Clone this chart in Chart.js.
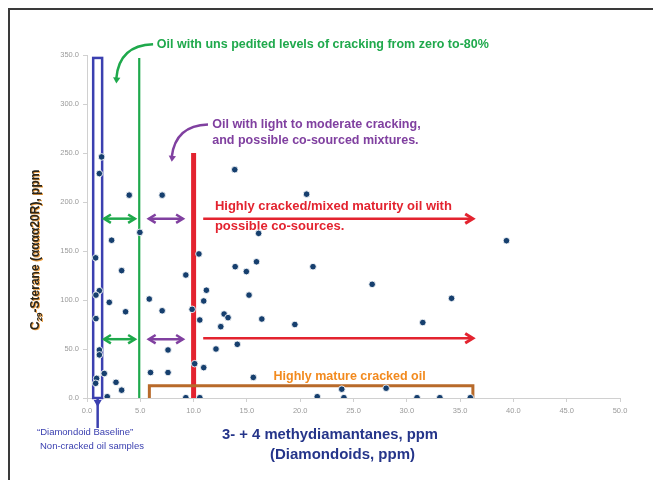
<!DOCTYPE html>
<html>
<head>
<meta charset="utf-8">
<title>Diamondoids vs C29 sterane</title>
<script src="https://cdn.jsdelivr.net/npm/chart.js@4.4.1/dist/chart.umd.min.js"></script>
<style>
  html, body { margin: 0; padding: 0; background: #fff; }
  #wrap { width: 653px; height: 480px; position: relative; }
</style>
</head>
<body>
<div id="wrap"><canvas id="c" width="653" height="480"></canvas></div>
<script>
// 3- + 4-methyldiamantanes (ppm) for each oil sample
const diamondoidsPpm = [
  1.37, 1.16, 3.96, 7.05, 13.86, 4.96, 2.31, 0.81, 10.5, 3.25,
  9.27, 13.9, 14.95, 15.9, 16.1, 15.2, 11.2, 10.95, 1.16, 0.84,
  2.09, 5.84, 3.62, 7.05, 9.86, 0.84, 10.58, 12.86, 13.23, 12.55,
  16.4, 19.5, 12.1, 14.1, 7.6, 1.16, 1.16, 10.1, 10.95, 1.62,
  5.96, 7.6, 2.72, 3.25, 0.9, 0.81, 1.9, 9.27, 10.58, 15.6,
  20.6, 21.2, 23.9, 21.6, 24.1, 26.75, 34.2, 31.5, 39.35, 28.06,
  30.96, 33.1, 35.96
];
// C29 sterane (aaaa20R), ppm, same sample order
const steranePpm = [
  246, 229, 207, 207, 233, 169, 161, 143, 147, 130,
  125.5, 134, 129, 139, 168, 105, 110, 99, 109.5, 105,
  97.6, 101, 88, 89, 90.5, 81, 79.6, 85.7, 82, 72.8,
  80.6, 75, 50, 54.8, 49, 49, 44, 35, 31, 25,
  26, 26, 16, 8, 20, 15, 1.3, 0.3, 0.3, 21,
  208, 134, 9, 1.3, 0.3, 116, 101.7, 77, 160.5, 10,
  0.3, 0.3, 0.3
];
const xAxisTitle = ['3- + 4 methydiamantanes, ppm', '(Diamondoids, ppm)'];
const yAxisTitle = ['C', '29', '-Sterane (\u03b1\u03b1\u03b1\u03b120R), ppm'];

const FONT = '"Liberation Sans", Arial, sans-serif';
const GREEN = '#1fa94c';
const PURPLE = '#8040a0';
const RED = '#e3232f';
const BLUE = '#3b40b0';
const BROWN = '#b86a2a';
const ORANGE = '#f28a1e';

function head(ctx, x, y, ang, size, fill) {
  ctx.beginPath();
  ctx.moveTo(x - size * Math.cos(ang - 0.55), y - size * Math.sin(ang - 0.55));
  ctx.lineTo(x, y);
  ctx.lineTo(x - size * Math.cos(ang + 0.55), y - size * Math.sin(ang + 0.55));
  if (fill) { ctx.closePath(); ctx.fill(); } else { ctx.stroke(); }
}

function text(ctx, str, x, y, font, color, maxW) {
  ctx.font = font;
  ctx.fillStyle = color;
  ctx.textAlign = 'left';
  ctx.textBaseline = 'middle';
  if (maxW) ctx.fillText(str, x, y, maxW); else ctx.fillText(str, x, y);
}

// Interpretive overlays: zones, arrows and their captions
const overlays = {
  id: 'overlays',
  beforeDatasetsDraw(chart) {
    const { ctx } = chart;
    const sx = chart.scales.x, sy = chart.scales.y;
    const X = v => sx.getPixelForValue(v);
    const Y = v => sy.getPixelForValue(v);
    ctx.save();
    ctx.lineCap = 'butt';

    // baseline box for non-cracked oils
    ctx.strokeStyle = BLUE;
    ctx.lineWidth = 2.5;
    ctx.strokeRect(X(0.58), Y(347), X(1.42) - X(0.58), Y(0) - Y(347));
    const bx = (X(0.58) + X(1.42)) / 2;
    ctx.beginPath();
    ctx.moveTo(bx, Y(0));
    ctx.lineTo(bx, Y(0) + 30);
    ctx.stroke();
    ctx.fillStyle = BLUE;
    ctx.beginPath();
    ctx.moveTo(bx - 4, Y(0) + 2);
    ctx.lineTo(bx + 4, Y(0) + 2);
    ctx.lineTo(bx, Y(0) + 9);
    ctx.closePath();
    ctx.fill();

    // green boundary line
    ctx.strokeStyle = GREEN;
    ctx.lineWidth = 2.2;
    ctx.beginPath();
    ctx.moveTo(X(4.9), Y(347));
    ctx.lineTo(X(4.9), Y(0));
    ctx.stroke();

    // red boundary bar
    ctx.strokeStyle = RED;
    ctx.lineWidth = 5;
    ctx.beginPath();
    ctx.moveTo(X(10), Y(250));
    ctx.lineTo(X(10), Y(0));
    ctx.stroke();

    // double-headed arrows
    const dbl = (x1, x2, yv, col) => {
      ctx.strokeStyle = col;
      ctx.lineWidth = 2.5;
      const yy = Y(yv);
      ctx.beginPath();
      ctx.moveTo(X(x1), yy);
      ctx.lineTo(X(x2), yy);
      ctx.stroke();
      head(ctx, X(x2), yy, 0, 8, false);
      head(ctx, X(x1), yy, Math.PI, 8, false);
    };
    dbl(1.6, 4.5, 183, GREEN);
    dbl(1.6, 4.5, 60, GREEN);
    dbl(5.8, 9.0, 183, PURPLE);
    dbl(5.8, 9.0, 60, PURPLE);

    // red rightward arrows
    const rarr = (x1, x2, yv) => {
      ctx.strokeStyle = RED;
      ctx.lineWidth = 2.5;
      const yy = Y(yv);
      ctx.beginPath();
      ctx.moveTo(X(x1), yy);
      ctx.lineTo(X(x2), yy);
      ctx.stroke();
      ctx.lineWidth = 3;
      head(ctx, X(x2), yy, 0, 9, false);
    };
    rarr(10.9, 36.2, 183);
    rarr(10.9, 36.2, 61);

    // bracket for highly mature cracked oil
    ctx.strokeStyle = BROWN;
    ctx.lineWidth = 3;
    ctx.beginPath();
    ctx.moveTo(X(5.85), Y(0));
    ctx.lineTo(X(5.85), Y(12.5));
    ctx.lineTo(X(36.2), Y(12.5));
    ctx.lineTo(X(36.2), Y(0));
    ctx.stroke();

    // curved pointer arrows
    const curve = (x0, y0, cx, cy, x1, y1, col) => {
      ctx.strokeStyle = col;
      ctx.fillStyle = col;
      ctx.lineWidth = 2.5;
      ctx.beginPath();
      ctx.moveTo(x0, y0);
      ctx.quadraticCurveTo(cx, cy, x1, y1 - 5);
      ctx.stroke();
      const ang = Math.atan2(y1 - (y1 - 5) + (y1 - 5 - cy) * 0.2, x1 - cx) ;
      head(ctx, x1, y1, Math.atan2(y1 - cy, x1 - cx), 7, true);
    };
    curve(X(6.2), Y(361), X(3.0), Y(360), X(2.75), Y(321), GREEN);
    curve(X(11.35), Y(279), X(8.3), Y(278), X(7.95), Y(241), PURPLE);

    // captions
    text(ctx, 'Oil with uns pedited levels of cracking from zero to-80%',
      X(6.55), Y(361), 'bold 12.5px ' + FONT, GREEN, 348);
    text(ctx, 'Oil with light to moderate cracking,', X(11.75), Y(279.5),
      'bold 12.5px ' + FONT, PURPLE, 222);
    text(ctx, 'and possible co-sourced mixtures.', X(11.75), Y(263),
      'bold 12.5px ' + FONT, PURPLE, 216);
    text(ctx, 'Highly cracked/mixed maturity oil with', X(12.0), Y(195),
      'bold 13px ' + FONT, RED, 246);
    text(ctx, 'possible co-sources.', X(12.0), Y(175.5),
      'bold 13px ' + FONT, RED, 134);
    text(ctx, 'Highly mature cracked oil', X(17.5), Y(22.4),
      'bold 12.5px ' + FONT, ORANGE, 163);
    ctx.restore();
  },
  afterDraw(chart) {
    const { ctx } = chart;
    ctx.save();
    // axis titles
    ctx.textBaseline = 'middle';
    ctx.textAlign = 'left';
    ctx.font = 'bold 15px ' + FONT;
    ctx.fillStyle = '#25358a';
    ctx.fillText(xAxisTitle[0], 222, 435, 216);
    ctx.fillText(xAxisTitle[1], 270, 455, 150);

    ctx.font = '9.5px ' + FONT;
    ctx.fillStyle = BLUE;
    ctx.fillText('\u201cDiamondoid Baseline\u201d', 37, 432, 116);
    ctx.fillText('Non-cracked oil samples', 40, 446, 118);

    // rotated y title with subscript
    ctx.translate(36, 330);
    ctx.rotate(-Math.PI / 2);
    const drawTitle = (color, dx, dy) => {
      let x = dx;
      ctx.fillStyle = color;
      ctx.font = 'bold 12px ' + FONT;
      ctx.fillText(yAxisTitle[0], x, dy);
      x += ctx.measureText(yAxisTitle[0]).width;
      ctx.font = 'bold 8px ' + FONT;
      ctx.fillText(yAxisTitle[1], x, dy + 4);
      x += ctx.measureText(yAxisTitle[1]).width;
      ctx.font = 'bold 12px ' + FONT;
      ctx.fillText(yAxisTitle[2], x, dy);
    };
    drawTitle('#f0a040', -0.8, 0.8);
    drawTitle('#2a2418', 0, 0);
    ctx.restore();

    // frame lines
    ctx.save();
    ctx.strokeStyle = '#3a3a3a';
    ctx.lineWidth = 2;
    ctx.beginPath();
    ctx.moveTo(653, 9);
    ctx.lineTo(9, 9);
    ctx.lineTo(9, 480);
    ctx.stroke();
    ctx.restore();
  }
};

const tickFont = { family: FONT, size: 7.5 };

new Chart(document.getElementById('c'), {
  type: 'scatter',
  data: {
    datasets: [{
      label: 'Oil samples',
      data: diamondoidsPpm.map((x, i) => ({ x, y: steranePpm[i] })),
      pointRadius: 3.3,
      pointBackgroundColor: '#163f6e',
      pointBorderColor: 'rgba(255,255,255,0.85)',
      pointBorderWidth: 1
    }]
  },
  options: {
    responsive: false,
    animation: false,
    devicePixelRatio: 1,
    layout: { padding: { top: 55, right: 33, left: 0, bottom: 0 } },
    plugins: { legend: { display: false }, tooltip: { enabled: false } },
    scales: {
      x: {
        type: 'linear', min: 0, max: 50,
        ticks: { stepSize: 5, color: '#9a9a9a', font: tickFont, padding: 4,
          maxRotation: 0, callback: v => v.toFixed(1) },
        grid: { drawOnChartArea: false, drawTicks: true, tickLength: 4, color: '#d0d0d0' },
        border: { color: '#d0d0d0', width: 1 },
        afterFit: s => { s.height = 82; }
      },
      y: {
        type: 'linear', min: 0, max: 350,
        ticks: { stepSize: 50, color: '#9a9a9a', font: tickFont, padding: 4,
          callback: v => v.toFixed(1) },
        grid: { drawOnChartArea: false, drawTicks: true, tickLength: 4, color: '#d0d0d0' },
        border: { color: '#d0d0d0', width: 1 },
        afterFit: s => { s.width = 87; }
      }
    }
  },
  plugins: [overlays]
});
</script>
</body>
</html>
